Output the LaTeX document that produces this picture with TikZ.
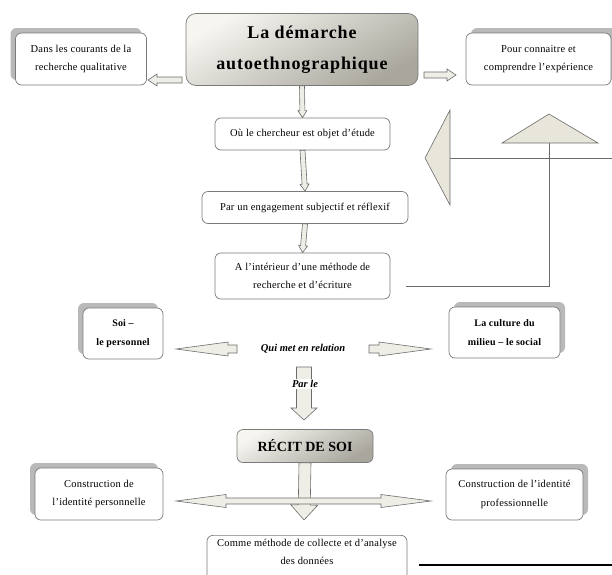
\documentclass[tikz,border=0pt]{standalone}
\usepackage{fontspec}
\setmainfont{Liberation Serif}
\usetikzlibrary{calc,shadows}

\definecolor{boxline}{HTML}{7A7A7A}
\definecolor{arrowfill}{HTML}{EEEDE6}
\definecolor{trifill}{HTML}{E8E6DA}
\definecolor{headtop}{HTML}{F6F5F0}
\definecolor{headbot}{HTML}{A9A79D}

\tikzset{
  % block arrows between the boxes
  bshaft/.store in=\bshaft, bhead/.store in=\bhead, blen/.store in=\blen,
  bshaft=3pt, bhead=6pt, blen=9pt,
  block/.style={draw=gray!85!black, fill=arrowfill, line width=0.6pt, to path={
    -- ($(\tikztostart)!\bshaft!90:(\tikztotarget)$)
    -- ($($(\tikztotarget)!\blen!(\tikztostart)$)!\bshaft!90:(\tikztotarget)$)
    -- ($($(\tikztotarget)!\blen!(\tikztostart)$)!\bhead!90:(\tikztotarget)$)
    -- (\tikztotarget)
    -- ($($(\tikztotarget)!\blen!(\tikztostart)$)!\bhead!-90:(\tikztotarget)$)
    -- ($($(\tikztotarget)!\blen!(\tikztostart)$)!\bshaft!-90:(\tikztotarget)$)
    -- ($(\tikztostart)!\bshaft!-90:(\tikztotarget)$)
    -- cycle}},
  dblock/.style={draw=gray!85!black, fill=arrowfill, line width=0.6pt, to path={
    -- ($($(\tikztostart)!\blen!(\tikztotarget)$)!\bhead!90:(\tikztotarget)$)
    -- ($($(\tikztostart)!\blen!(\tikztotarget)$)!\bshaft!90:(\tikztotarget)$)
    -- ($($(\tikztotarget)!\blen!(\tikztostart)$)!\bshaft!90:(\tikztotarget)$)
    -- ($($(\tikztotarget)!\blen!(\tikztostart)$)!\bhead!90:(\tikztotarget)$)
    -- (\tikztotarget)
    -- ($($(\tikztotarget)!\blen!(\tikztostart)$)!\bhead!-90:(\tikztotarget)$)
    -- ($($(\tikztotarget)!\blen!(\tikztostart)$)!\bshaft!-90:(\tikztotarget)$)
    -- ($($(\tikztostart)!\blen!(\tikztotarget)$)!\bshaft!-90:(\tikztotarget)$)
    -- ($($(\tikztostart)!\blen!(\tikztotarget)$)!\bhead!-90:(\tikztotarget)$)
    -- cycle}},
  % boxes
  box/.style={draw=boxline, line width=0.7pt, rounded corners=6pt, fill=white,
    align=center, inner sep=2pt,
    font=\fontsize{10.5}{18.5}\selectfont\addfontfeatures{LetterSpace=2}},
  boldbox/.style={box,
    font=\bfseries\fontsize{10}{19}\selectfont\addfontfeatures{LetterSpace=2}},
  shadowleft/.style={drop shadow={shadow xshift=-5pt, shadow yshift=5pt,
    fill=gray!55, opacity=1}},
  shadowright/.style={drop shadow={shadow xshift=5pt, shadow yshift=5pt,
    fill=gray!55, opacity=1}},
  headbox/.style={box, top color=headtop, bottom color=headbot, shading angle=30},
  tri/.style={draw=gray!85!black, fill=trifill, line width=0.6pt},
  link/.style={draw=gray!85!black, line width=0.7pt},
}

\begin{document}
\begin{tikzpicture}[x=1pt, y=-1pt]
\clip (0,0) rectangle (612,574);
%nodes
\node[headbox, rounded corners=10pt, minimum width=232pt, minimum height=72pt,
  font=\bfseries\fontsize{18}{31}\selectfont\addfontfeatures{LetterSpace=5}] (main) at (302,49.5)
  {La démarche\\autoethnographique};
\node[box, shadowleft, minimum width=131pt, minimum height=52pt] (courants) at (81,59)
  {Dans les courants de la\\recherche qualitative};
\node[box, shadowright, minimum width=145pt, minimum height=52pt] (connaitre) at (538.5,59)
  {Pour connaitre et\\comprendre l'expérience};
\node[box, minimum width=175pt, minimum height=32pt] (objet) at (302.5,134)
  {Où le chercheur est objet d'étude};
\node[box, minimum width=206pt, minimum height=32pt] (engagement) at (305,207.5)
  {Par un engagement subjectif et réflexif};
\node[box, minimum width=175pt, minimum height=46pt] (methode) at (302.5,276)
  {A l'intérieur d'une méthode de\\recherche et d'écriture};
\node[boldbox, shadowleft, minimum width=80pt, minimum height=51pt]
  (soi) at (123,333.5) {Soi –\\le personnel};
\node[boldbox, shadowright, minimum width=111pt, minimum height=51pt]
  (culture) at (504.5,332.5) {La culture du\\milieu – le social};
\node[font=\bfseries\itshape\fontsize{10.5}{12}\selectfont] (relation) at (303,349)
  {Qui met en relation};
\node[headbox, minimum width=136pt, minimum height=33pt, font=\bfseries\fontsize{14}{16}\selectfont]
  (recit) at (305,446) {RÉCIT DE SOI};
\node[box, shadowleft, minimum width=128pt, minimum height=52pt] (personnelle) at (99,494)
  {Construction de\\l'identité personnelle};
\node[box, shadowright, minimum width=137pt, minimum height=51pt] (professionnelle) at (514.5,494.5)
  {Construction de l'identité\\professionnelle};
\node[box, minimum width=200pt, inner ysep=4pt, text depth=30pt, anchor=north,
  font=\fontsize{10.5}{17.5}\selectfont\addfontfeatures{LetterSpace=2}] (collecte) at (307,535)
  {Comme méthode de collecte et d'analyse\\des données};
%arrow ends
\coordinate (mainleft) at (182,80);
\coordinate (courantsin) at (148,80);
\coordinate (mainright) at (424,75);
\coordinate (connaitrein) at (456,75);
\coordinate (soiout) at (237,349);
\coordinate (soitip) at (176,349);
\coordinate (cultureout) at (369,349);
\coordinate (culturetip) at (431,349);
\coordinate (parletop) at (304,367);
\coordinate (parletip) at (304,420);
\coordinate (recittip) at (304,520);
\coordinate (crossleft) at (176,501);
\coordinate (crossright) at (431,501);
%arrows
\draw[block, bshaft=3pt, bhead=6pt, blen=9pt] (mainleft) to (courantsin);
\draw[block, bshaft=3pt, bhead=6pt, blen=9pt] (mainright) to (connaitrein);
\draw[block, bshaft=2.5pt, bhead=4.5pt, blen=7pt] (main.south) to (objet.north);
\draw[block, bshaft=2.5pt, bhead=4.5pt, blen=7pt] (objet.south) to (engagement.north);
\draw[block, bshaft=2.5pt, bhead=4.5pt, blen=7pt] (engagement.south) to (methode.north);
\draw[block, bshaft=4pt, bhead=7pt, blen=52pt] (soiout) to (soitip);
\draw[block, bshaft=4pt, bhead=7pt, blen=52pt] (cultureout) to (culturetip);
\draw[block, bshaft=7.5pt, bhead=13pt, blen=12pt] (parletop) to (parletip);
\node[fill=white, inner sep=1pt, font=\bfseries\itshape\fontsize{10.5}{12}\selectfont]
  (parle) at (305,384) {Par le};
\draw[block, bshaft=6pt, bhead=13.5pt, blen=15pt] (recit.south) to (recittip);
\draw[dblock, bshaft=3pt, bhead=6.5pt, blen=50pt] (crossleft) to (crossright);
%links on the right
\coordinate (linkstart) at (406,286);
\coordinate (uptri) at (549,143);
\coordinate (lefttri) at (450,158);
\coordinate (rightedge) at (612,158);
\draw[link] (linkstart) -| (uptri);
\draw[tri] (502,143) -- (549,114) -- (598,143) -- cycle;
\draw[tri] (450,110) -- (425,158) -- (450,205) -- cycle;
\draw[link] (lefttri) -- (rightedge);
\coordinate (baseleft) at (419,565);
\coordinate (baseright) at (612,565);
\draw[line width=1.2pt] (baseleft) -- (baseright);
\end{tikzpicture}
\end{document}
